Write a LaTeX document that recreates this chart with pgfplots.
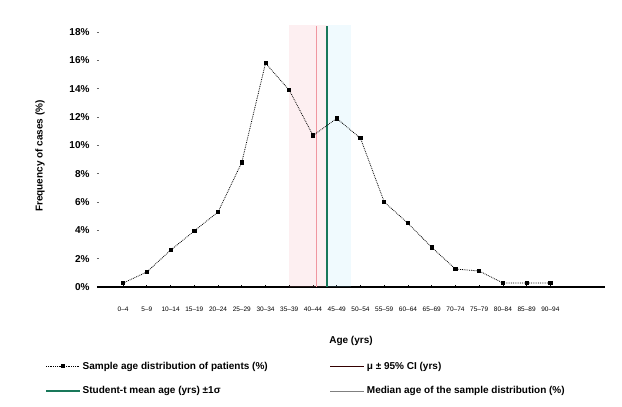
\documentclass[border=0pt]{standalone}
\usepackage{fontspec}
\setmainfont{Liberation Sans}
\usepackage{pgfplots}
\pgfplotsset{compat=1.18}
\definecolor{mgreen}{RGB}{25,120,90}
\definecolor{mpink}{RGB}{240,150,160}
\begin{document}
\begin{tikzpicture}
\begin{axis}[
  name=ax,
  scale only axis, width=508pt, height=262pt,
  xmin=-1.1, xmax=20.3, ymin=0, ymax=18.5,
  axis x line*=bottom, axis y line*=left,
  y axis line style={draw=none},
  x axis line style={line width=1.4pt, -},
  /pgf/number format/assume math mode=true,
  ytick={0,2,...,18},
  yticklabel={\pgfmathprintnumber{\tick}\%},
  yticklabel style={font=\fontsize{10}{11}\selectfont\bfseries, xshift=-4pt},
  ytick style={draw=black!60, line width=0.8pt},
  major tick length=2pt,
  xtick={0,...,18},
  xticklabels={0--4,5--9,10--14,15--19,20--24,25--29,30--34,35--39,40--44,45--49,50--54,55--59,60--64,65--69,70--74,75--79,80--84,85--89,90--94},
  xticklabel style={font=\fontsize{6.5}{7}\selectfont, yshift=-16pt},
  xtick style={black, line width=0.8pt},
  xlabel={Age (yrs)},
  xlabel style={font=\fontsize{10}{11}\selectfont\bfseries, yshift=-18pt},
  ylabel={Frequency of cases (\%)},
  ylabel style={font=\fontsize{10}{11}\selectfont\bfseries, yshift=18pt},
  legend columns=2,
  legend cell align=left,
  legend style={at={(-0.108,-0.27)}, anchor=north west, draw=none, fill=none,
    font=\fontsize{10}{11}\selectfont\bfseries, row sep=12pt},
  legend image code/.code={\draw[mark repeat=2,mark phase=2] plot coordinates {(0pt,0pt)(17pt,0pt)(34pt,0pt)};},
]
\addplot[fill=mpink, fill opacity=0.15, draw=none, forget plot] coordinates {(7.0,0)(7.0,18.5)(8.58,18.5)(8.58,0)} -- cycle;
\addplot[fill=cyan!40, fill opacity=0.15, draw=none, forget plot] coordinates {(8.58,0)(8.58,18.5)(9.6,18.5)(9.6,0)} -- cycle;
\addplot[mpink, line width=0.8pt, forget plot] coordinates {(8.15,0)(8.15,18.4)};
\addplot[mgreen, line width=2.2pt, forget plot] coordinates {(8.58,0)(8.58,18.4)};
\addplot[black, densely dotted, line width=0.8pt, mark=square*, mark size=1.6pt, mark options={solid}, forget plot] coordinates {
(0,0.28)(1,1.06)(2,2.6)(3,3.96)(4,5.3)(5,8.8)(6,15.8)(7,13.9)(8,10.7)(9,11.9)(10,10.5)(11,6.0)(12,4.5)(13,2.8)(14,1.27)(15,1.13)(16,0.28)(17,0.28)(18,0.28)};
\addlegendimage{black, densely dotted, line width=0.8pt, mark=square*, mark size=1.5pt, mark options={solid}}
\addlegendentry{\makebox[245pt][l]{Sample age distribution of patients (\%)}}
\addlegendimage{black!80!red, line width=1.2pt}
\addlegendentry{μ ± 95\% CI (yrs)}
\addlegendimage{mgreen, line width=1.4pt}
\addlegendentry{\makebox[245pt][l]{Student-t mean age (yrs) ±1σ}}
\addlegendimage{gray, line width=1pt}
\addlegendentry{Median age of the sample distribution (\%)}
\end{axis}
\pgfresetboundingbox
\path[use as bounding box] (ax.south west) ++(-97pt,-120pt) rectangle ++(622pt,407pt);
\end{tikzpicture}
\end{document}
